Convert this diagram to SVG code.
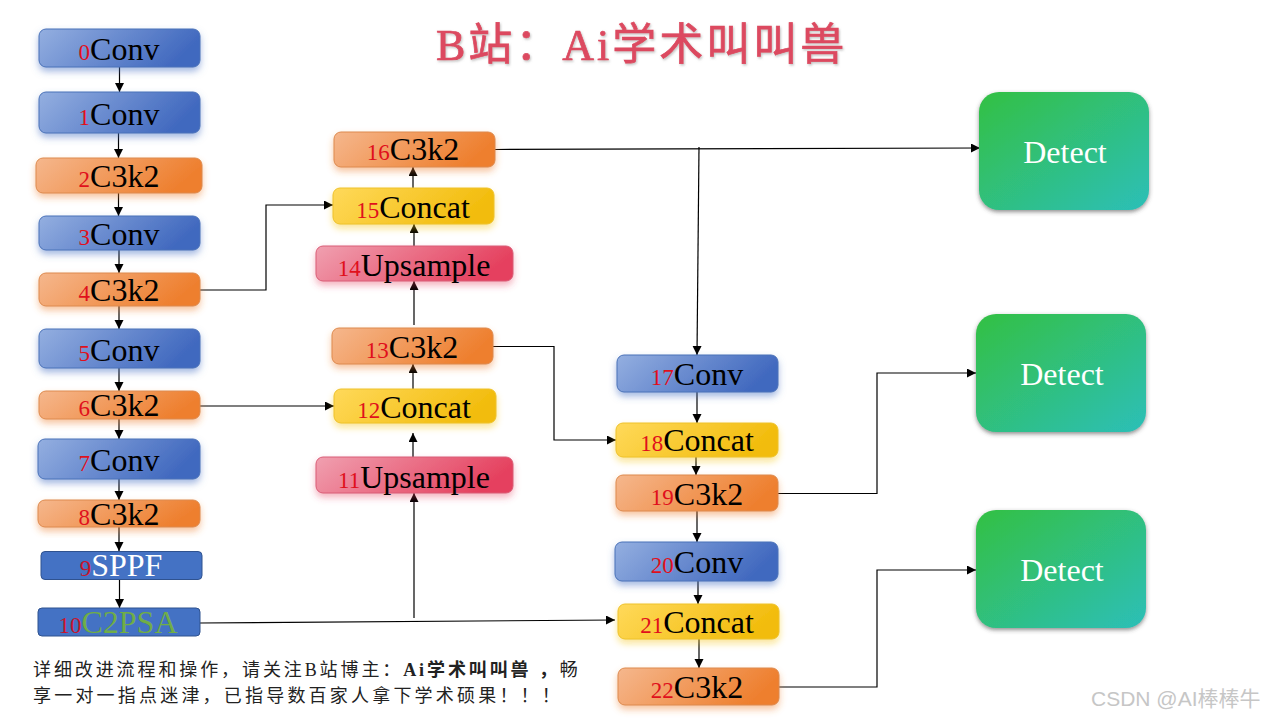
<svg xmlns="http://www.w3.org/2000/svg" width="1280" height="720" viewBox="0 0 1280 720">
<style>
text{font-family:"Liberation Serif","Noto Sans CJK SC",serif}
.l{font-size:32px;text-anchor:middle;fill:#000}
.n{font-size:23px;fill:#e0101c}
.b{stroke-width:1;rx:7px}
.blue{fill:url(#gb);stroke:#4a72b8}
.or{fill:url(#go);stroke:#dd8a4e}
.ye{fill:url(#gy);stroke:#eec22a}
.pk{fill:url(#gp);stroke:#d95c76}
.d{fill:url(#gd);filter:url(#shd)}
.dt{font-size:32px;fill:#fff;text-anchor:middle}
.c{fill:none;stroke:#000;stroke-width:1.2;marker-end:url(#a)}
.cap{font-size:18px;fill:#222}
</style>
<defs>
<linearGradient id="gb" x1="0" y1="0" x2="1" y2="0.25"><stop offset="0" stop-color="#94afe0"/><stop offset="1" stop-color="#4169bf"/></linearGradient>
<linearGradient id="go" x1="0" y1="0" x2="1" y2="0.25"><stop offset="0" stop-color="#f5b78d"/><stop offset="1" stop-color="#ee7f2e"/></linearGradient>
<linearGradient id="gy" x1="0" y1="0" x2="1" y2="0.25"><stop offset="0" stop-color="#ffd95a"/><stop offset="1" stop-color="#f2bc0c"/></linearGradient>
<linearGradient id="gp" x1="0" y1="0" x2="1" y2="0.25"><stop offset="0" stop-color="#f0a0b0"/><stop offset="1" stop-color="#e5415f"/></linearGradient>
<linearGradient id="gd" x1="0" y1="0" x2="1" y2="1"><stop offset="0" stop-color="#33c043"/><stop offset="1" stop-color="#2cbfb8"/></linearGradient>
<filter id="shd" x="-10%" y="-10%" width="120%" height="125%"><feDropShadow dx="0" dy="2" stdDeviation="2" flood-color="#444" flood-opacity="0.6"/></filter>
<filter id="sb" x="-15%" y="-30%" width="130%" height="170%"><feDropShadow dx="0" dy="4" stdDeviation="3.500" flood-color="#4a72c4" flood-opacity="0.5"/></filter>
<filter id="so" x="-15%" y="-30%" width="130%" height="170%"><feDropShadow dx="0" dy="4" stdDeviation="3.500" flood-color="#ee7f2e" flood-opacity="0.45"/></filter>
<filter id="sy" x="-15%" y="-30%" width="130%" height="170%"><feDropShadow dx="0" dy="4" stdDeviation="3.500" flood-color="#f5c518" flood-opacity="0.45"/></filter>
<filter id="sp" x="-15%" y="-30%" width="130%" height="170%"><feDropShadow dx="0" dy="4" stdDeviation="3.500" flood-color="#e5415f" flood-opacity="0.4"/></filter>
<filter id="st" x="-5%" y="-20%" width="110%" height="150%"><feDropShadow dx="1" dy="1.5" stdDeviation="1.2" flood-color="#888" flood-opacity="0.5"/></filter>
<marker id="a" markerUnits="userSpaceOnUse" markerWidth="10" markerHeight="10" refX="9" refY="4.5" orient="auto"><path d="M0 0L9 4.5L0 9z" fill="#000"/></marker>
</defs>
<rect width="1280" height="720" fill="#fff"/>
<text id="title" x="436" y="60" font-size="44" fill="#dc4a60" stroke="#dc4a60" stroke-width="0.7" letter-spacing="3" filter="url(#st)">B站：Ai学术叫叫兽</text>
<g id="connectors">
<path class="c" d="M119.500 67V92"/>
<path class="c" d="M118.500 133V158"/>
<path class="c" d="M118.500 193V216"/>
<path class="c" d="M119 250V273"/>
<path class="c" d="M119 306V329"/>
<path class="c" d="M119 368V391"/>
<path class="c" d="M119 419V439"/>
<path class="c" d="M119 479V500"/>
<path class="c" d="M119 527V551"/>
<path class="c" d="M119.500 580V608"/>
<path class="c" d="M200 290H266V205H333"/>
<path class="c" d="M200 406H334"/>
<path class="c" d="M200 623L615 620"/>
<path class="c" d="M414 618V493"/>
<path class="c" d="M413 457V433"/>
<path class="c" d="M413 389V364"/>
<path class="c" d="M414 325V281"/>
<path class="c" d="M414 246V224"/>
<path class="c" d="M413 188V167"/>
<path class="c" d="M495 149.500L980 148"/>
<path class="c" d="M699 147L697 355"/>
<path class="c" d="M493 346.500H554V440H616"/>
<path class="c" d="M697 392V423"/>
<path class="c" d="M696 457V475"/>
<path class="c" d="M697 511V542"/>
<path class="c" d="M698 581V604"/>
<path class="c" d="M699 639V668"/>
<path class="c" d="M778 493.500H877V373H976"/>
<path class="c" d="M779 687H877V570H976"/>
</g>
<g id="n0"><rect class="b blue" filter="url(#sb)" x="39" y="29" width="161" height="38"/><text class="l" x="119" y="60"><tspan class="n">0</tspan>Conv</text></g>
<g id="n1"><rect class="b blue" filter="url(#sb)" x="39" y="92" width="161" height="41"/><text class="l" x="119" y="125"><tspan class="n">1</tspan>Conv</text></g>
<g id="n2"><rect class="b or" filter="url(#so)" x="36" y="158" width="166" height="35"/><text class="l" x="119" y="187"><tspan class="n">2</tspan>C3k2</text></g>
<g id="n3"><rect class="b blue" filter="url(#sb)" x="39" y="216" width="161" height="34"/><text class="l" x="119" y="245"><tspan class="n">3</tspan>Conv</text></g>
<g id="n4"><rect class="b or" filter="url(#so)" x="39" y="273" width="161" height="33"/><text class="l" x="119" y="301"><tspan class="n">4</tspan>C3k2</text></g>
<g id="n5"><rect class="b blue" filter="url(#sb)" x="39" y="329" width="161" height="39"/><text class="l" x="119" y="361"><tspan class="n">5</tspan>Conv</text></g>
<g id="n6"><rect class="b or" filter="url(#so)" x="39" y="391" width="161" height="28"/><text class="l" x="119" y="416"><tspan class="n">6</tspan>C3k2</text></g>
<g id="n7"><rect class="b blue" filter="url(#sb)" x="38" y="439" width="162" height="40"/><text class="l" x="119" y="471"><tspan class="n">7</tspan>Conv</text></g>
<g id="n8"><rect class="b or" filter="url(#so)" x="38" y="500" width="162" height="27"/><text class="l" x="119" y="525"><tspan class="n">8</tspan>C3k2</text></g>
<g id="n9"><rect rx="4" fill="#4472c4" stroke="#2f528f" x="41" y="551.500" width="161" height="28"/><text class="l" x="121" y="576" style="fill:#fff"><tspan class="n" style="fill:#c8142c">9</tspan>SPPF</text></g>
<g id="n10"><rect rx="4" fill="#4472c4" stroke="#2f528f" x="38" y="608" width="162" height="28"/><text class="l" x="118" y="633" style="fill:#70ad47"><tspan class="n" style="fill:#c8142c">10</tspan>C2PSA</text></g>
<g id="n11"><rect class="b pk" filter="url(#sp)" x="316" y="457" width="197" height="36"/><text class="l" x="414" y="488"><tspan class="n">11</tspan>Upsample</text></g>
<g id="n12"><rect class="b ye" filter="url(#sy)" x="334" y="389" width="162" height="34"/><text class="l" x="414" y="418"><tspan class="n">12</tspan>Concat</text></g>
<g id="n13"><rect class="b or" filter="url(#so)" x="332" y="328" width="161" height="36"/><text class="l" x="412" y="358"><tspan class="n">13</tspan>C3k2</text></g>
<g id="n14"><rect class="b pk" filter="url(#sp)" x="316" y="246" width="197" height="35"/><text class="l" x="414" y="276"><tspan class="n">14</tspan>Upsample</text></g>
<g id="n15"><rect class="b ye" filter="url(#sy)" x="333" y="188" width="161" height="36"/><text class="l" x="413" y="218"><tspan class="n">15</tspan>Concat</text></g>
<g id="n16"><rect class="b or" filter="url(#so)" x="334" y="132" width="161" height="35"/><text class="l" x="413" y="160"><tspan class="n">16</tspan>C3k2</text></g>
<g id="n17"><rect class="b blue" filter="url(#sb)" x="617" y="355" width="161" height="37"/><text class="l" x="697" y="385"><tspan class="n">17</tspan>Conv</text></g>
<g id="n18"><rect class="b ye" filter="url(#sy)" x="616" y="423" width="162" height="34"/><text class="l" x="697" y="451"><tspan class="n">18</tspan>Concat</text></g>
<g id="n19"><rect class="b or" filter="url(#so)" x="616" y="475" width="162" height="36"/><text class="l" x="697" y="505"><tspan class="n">19</tspan>C3k2</text></g>
<g id="n20"><rect class="b blue" filter="url(#sb)" x="615" y="542" width="163" height="39"/><text class="l" x="697" y="573"><tspan class="n">20</tspan>Conv</text></g>
<g id="n21"><rect class="b ye" filter="url(#sy)" x="618" y="604" width="161" height="35"/><text class="l" x="697" y="633"><tspan class="n">21</tspan>Concat</text></g>
<g id="n22"><rect class="b or" filter="url(#so)" x="618" y="668" width="161" height="37"/><text class="l" x="697" y="698"><tspan class="n">22</tspan>C3k2</text></g>
<g id="d1"><rect class="d" x="979" y="92" width="170" height="118" rx="20"/><text class="dt" x="1065" y="163">Detect</text></g>
<g id="d2"><rect class="d" x="976" y="314" width="170" height="118" rx="20"/><text class="dt" x="1062" y="385">Detect</text></g>
<g id="d3"><rect class="d" x="976" y="510" width="170" height="118" rx="20"/><text class="dt" x="1062" y="581">Detect</text></g>
<text id="cap1" class="cap" x="33" y="676" letter-spacing="2.900">详细改进流程和操作，请关注B站博主：<tspan font-weight="bold">Ai学术叫叫兽 ，</tspan>畅</text>
<text id="cap2" class="cap" x="33" y="702" letter-spacing="3.200">享一对一指点迷津，已指导数百家人拿下学术硕果！！！</text>
<text id="wm" x="1091" y="706" font-size="21" fill="#c6c6c6" style="font-family:'Liberation Sans','Noto Sans CJK SC',sans-serif">CSDN @AI棒棒牛</text>
</svg>
